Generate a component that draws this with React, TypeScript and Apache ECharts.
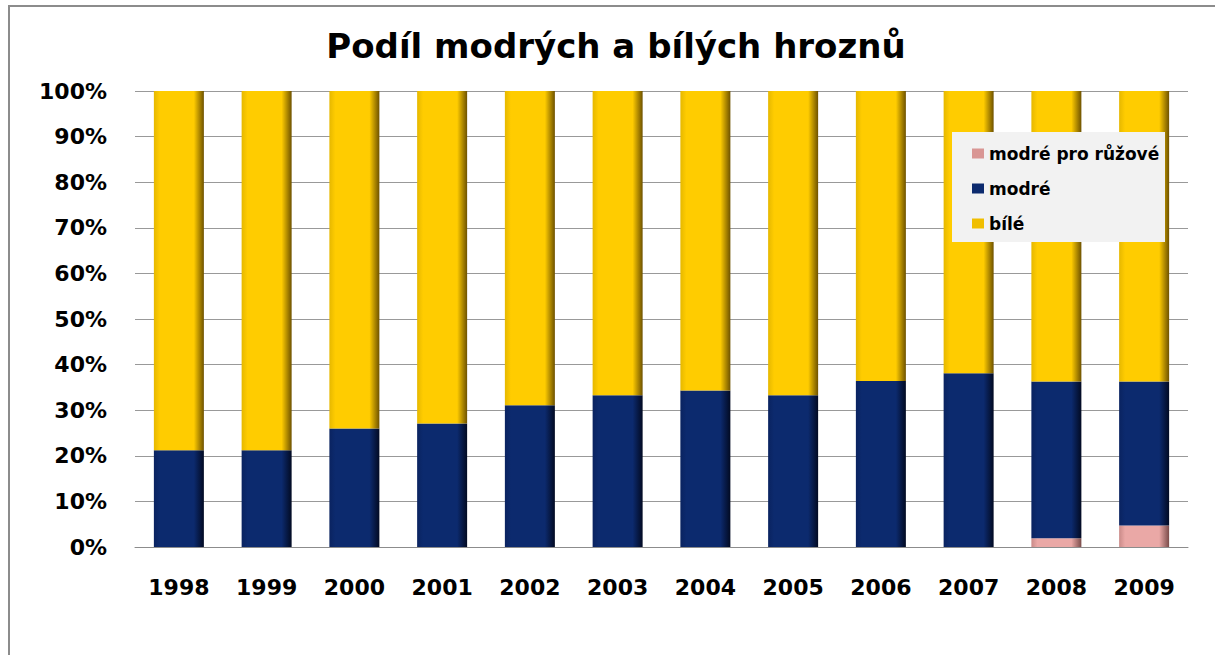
import React, { useEffect, useRef } from "react";
import * as echarts from "echarts";

const categories = ["1998", "1999", "2000", "2001", "2002", "2003", "2004", "2005", "2006", "2007", "2008", "2009"];
const ruzove = [0, 0, 0, 0, 0, 0, 0, 0, 0, 0, 1.9, 4.7];
const modre = [21.2, 21.2, 26.0, 27.1, 31.1, 33.3, 34.3, 33.3, 36.4, 38.1, 34.4, 31.6];
const bile = [78.8, 78.8, 74.0, 72.9, 68.9, 66.7, 65.7, 66.7, 63.6, 61.9, 63.7, 63.7];
const seriesNames = ["modré pro růžové", "modré", "bílé"];
const solidColors = ["#d99694", "#0c2a6e", "#f0be00"];

const FONT = "DejaVu Sans";

function grad(left: string, mid: string, right: string) {
  return new echarts.graphic.LinearGradient(0, 0, 1, 0, [
    { offset: 0, color: left },
    { offset: 0.12, color: mid },
    { offset: 0.8, color: mid },
    { offset: 1, color: right },
  ]);
}

export default function App() {
  const ref = useRef<HTMLDivElement>(null);
  useEffect(() => {
    document.body.style.margin = "0";
    const chart = echarts.init(ref.current!, null, { renderer: "svg" });
    const colors = [
      grad("#c98a88", "#eaa8a6", "#7a4c4a"),
      grad("#0a2360", "#0c2a6e", "#020a22"),
      grad("#e6b800", "#ffcc00", "#6e5200"),
    ];
    const datas = [ruzove, modre, bile];
    chart.setOption({
      animation: false,
      backgroundColor: "#ffffff",
      title: {
        text: "Podíl modrých a bílých hroznů",
        left: 611,
        textAlign: "center",
        top: 24,
        textStyle: { fontFamily: FONT, fontWeight: "bold", fontSize: 34, color: "#000" },
      },
      legend: {
        data: seriesNames.map((n, i) => ({ name: n, itemStyle: { color: solidColors[i] } })),
        orient: "vertical",
        left: 967,
        top: 140,
        itemWidth: 12,
        itemHeight: 10,
        itemGap: 18,
        icon: "rect",
        z: 10,
        textStyle: { fontFamily: FONT, fontWeight: "bold", fontSize: 17, color: "#000" },
      },
      graphic: [
        { type: "rect", shape: { x: 952, y: 132, width: 213, height: 110 }, style: { fill: "#f2f2f2" }, z: 5 },
        { type: "line", shape: { x1: 8, y1: 6, x2: 1215, y2: 6 }, style: { stroke: "#8c8c8c", lineWidth: 2 } },
        { type: "line", shape: { x1: 9, y1: 6, x2: 9, y2: 655 }, style: { stroke: "#8c8c8c", lineWidth: 2 } },
      ],
      grid: { left: 135, top: 91, width: 1053, height: 456 },
      xAxis: {
        type: "category",
        data: categories,
        axisLine: { lineStyle: { color: "#8c8c8c" } },
        axisTick: { show: false },
        axisLabel: { fontFamily: FONT, fontWeight: "bold", fontSize: 22, color: "#000", margin: 29 },
      },
      yAxis: {
        type: "value",
        min: 0,
        max: 100,
        interval: 10,
        axisLine: { show: false },
        axisTick: { show: false },
        splitLine: { lineStyle: { color: "#999999" } },
        axisLabel: { formatter: "{value}%", fontFamily: FONT, fontWeight: "bold", fontSize: 22, color: "#000", margin: 28 },
      },
      series: seriesNames.map((name, i) => ({
        name,
        type: "bar",
        stack: "total",
        barWidth: 50,
        data: datas[i],
        itemStyle: { color: colors[i] },
      })),
    });
    return () => chart.dispose();
  }, []);
  return <div ref={ref} style={{ width: 1215, height: 659 }} />;
}
